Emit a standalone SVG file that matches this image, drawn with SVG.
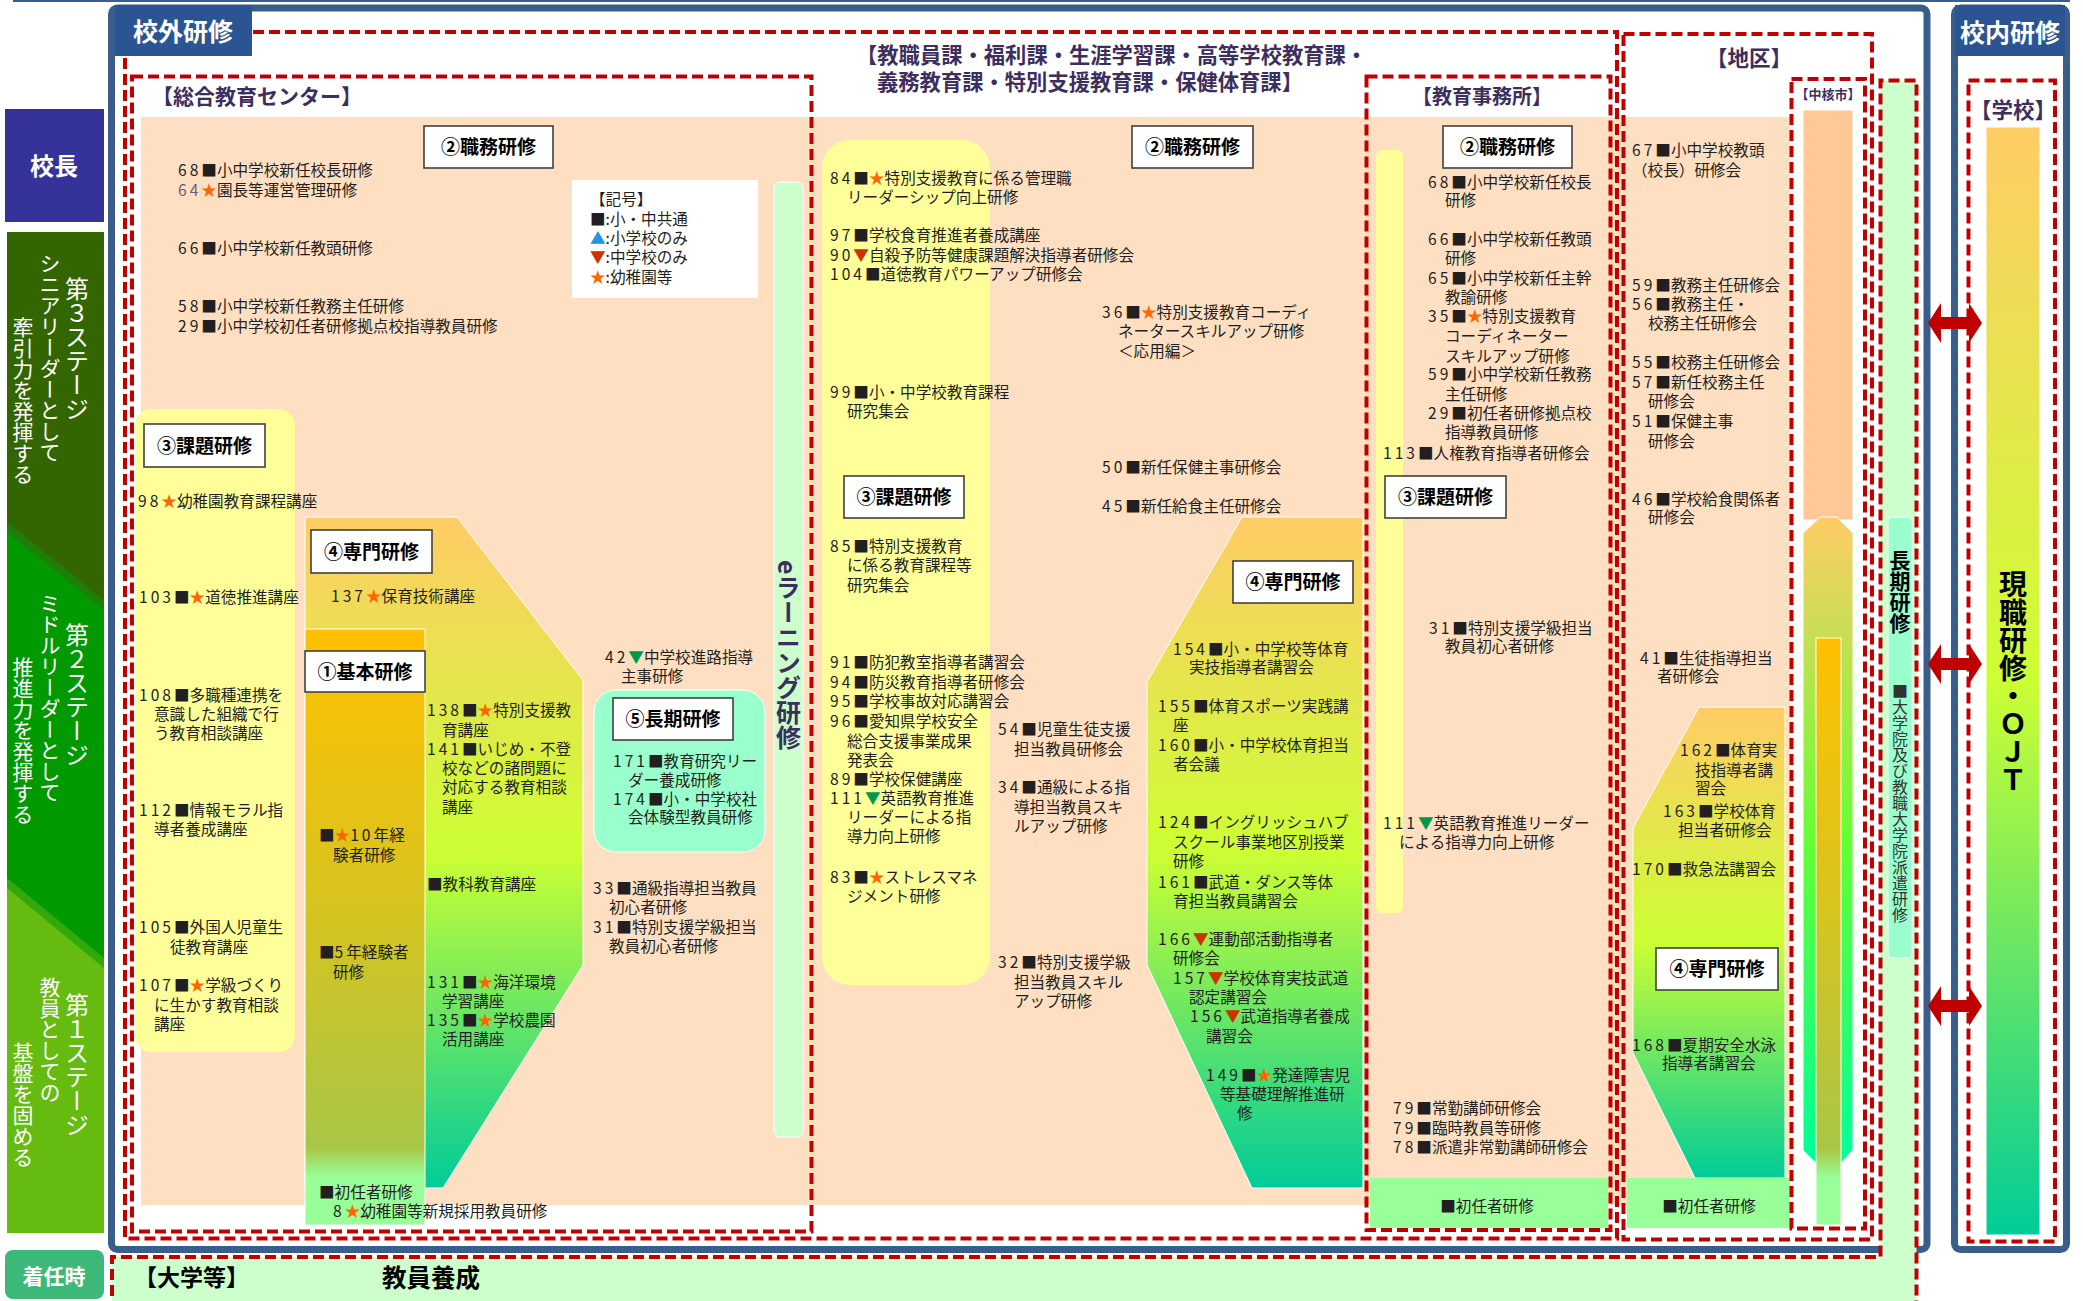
<svg xmlns="http://www.w3.org/2000/svg" width="2083" height="1301" viewBox="0 0 2083 1301">
<defs>
<linearGradient id="gSen" x1="0" y1="0" x2="0" y2="1"><stop offset="0" stop-color="#FFCC66"/><stop offset="0.5" stop-color="#CCFF33"/><stop offset="1" stop-color="#00CC99"/></linearGradient>
<linearGradient id="gKihon" x1="0" y1="0" x2="0" y2="1"><stop offset="0" stop-color="#FFC000"/><stop offset="0.45" stop-color="#D8C41E"/><stop offset="0.87" stop-color="#A9C646"/><stop offset="0.92" stop-color="#99FF99"/><stop offset="1" stop-color="#99FF99"/></linearGradient>
<linearGradient id="gChu" x1="0" y1="0" x2="0" y2="1"><stop offset="0" stop-color="#FFCC66"/><stop offset="0.5" stop-color="#66FF33"/><stop offset="1" stop-color="#00FF99"/></linearGradient>
<style>
.t{font-family:"Noto Sans CJK JP","Noto Sans",sans-serif;font-size:15.6px;fill:#231F20}
.n{letter-spacing:3px}
.st{fill:#FF6600}
.dn{fill:#CC3300}
.dg{fill:#00994C}
.up{fill:#1E96E6}
.dash{fill:none;stroke:#C00000;stroke-width:4;stroke-dasharray:11 5}
.lb rect{fill:#fff;stroke:#404040;stroke-width:1.6}
.lb text{font-family:"Noto Sans CJK JP",sans-serif;font-size:19px;font-weight:bold;fill:#000;text-anchor:middle}
.hd{font-family:"Noto Sans CJK JP",sans-serif;font-weight:bold;fill:#3C2F5E}
.bk{font-family:"Noto Sans CJK JP",sans-serif;font-weight:bold;fill:#000}
.vt{writing-mode:vertical-rl}
.wt{font-family:"Noto Sans CJK JP",sans-serif;fill:#fff}
.frame{fill:#fff;stroke:#3A5E8C;stroke-width:7}
.tab{fill:#2B5592}
.peach{fill:#FFDFC2}
.yel{fill:#FFFF99}
.ln{fill:#CCFFCC}
.shonin{fill:#99FF99}
.arrow{fill:#C00000}
</style>
</defs>
<rect width="2083" height="1301" fill="#fff"/>
<line x1="13" y1="1" x2="2070" y2="1" stroke="#3A5E8C" stroke-width="2"/>

<g id="stage-kocho">
<rect x="5" y="109" width="99" height="113" fill="#333399"/>
<text class="wt" x="54" y="175" font-size="24" font-weight="bold" text-anchor="middle">校長</text>
</g>
<g id="stage-bar">
<rect x="7" y="232" width="97" height="1001" fill="#66BB11"/>
<polygon points="7,232 104,232 104,968 7,888" fill="#33A80A"/>
<polygon points="7,232 104,232 104,958 7,878" fill="#009900"/>
<polygon points="7,232 104,232 104,610 7,532" fill="#1E7F08"/>
<polygon points="7,232 104,232 104,600 7,522" fill="#336600"/>
</g>
<g id="stage-3">
<text class="wt vt" x="77" y="277" font-size="24">第３ステージ</text>
<text class="wt vt" x="50" y="253" font-size="21">シニアリーダーとして</text>
<text class="wt vt" x="23" y="317" font-size="21">牽引力を発揮する</text>
</g>
<g id="stage-2">
<text class="wt vt" x="77" y="623" font-size="24">第２ステージ</text>
<text class="wt vt" x="50" y="593" font-size="21">ミドルリーダーとして</text>
<text class="wt vt" x="23" y="657" font-size="21">推進力を発揮する</text>
</g>
<g id="stage-1">
<text class="wt vt" x="77" y="993" font-size="24">第１ステージ</text>
<text class="wt vt" x="50" y="977" font-size="21">教員としての</text>
<text class="wt vt" x="23" y="1042" font-size="21">基盤を固める</text>
</g>
<g id="chakuninji">
<rect x="5" y="1250" width="99" height="49" rx="8" fill="#3CB878"/>
<text class="wt" x="54" y="1284" font-size="21" font-weight="bold" text-anchor="middle">着任時</text>
</g>

<rect class="frame" x="111.5" y="8" width="1815.5" height="1241.5" rx="6"/>

<rect class="peach" x="141" y="117" width="1649" height="1088"/>

<g id="center-box">
<rect class="yel" x="135" y="409" width="160" height="643" rx="16"/>
<polygon points="305,517 457,517 583,680 583,965 443,1188 305,1188" fill="url(#gSen)" stroke="#fff" stroke-width="1"/>
<rect x="305" y="629" width="120" height="596" fill="url(#gKihon)" stroke="#fff" stroke-width="1"/>
<rect x="594" y="690" width="171" height="162" rx="22" fill="#99FFCC" stroke="#fff" stroke-width="1"/>
<rect class="ln" x="774" y="182" width="29" height="955" rx="6" stroke="#fff" stroke-width="1"/>
<text class="hd vt" x="788.5" y="560" font-size="25">eラーニング研修</text>
<rect class="dash" x="132" y="76.5" width="679.5" height="1155"/>
<text class="hd" x="152" y="104" font-size="21">【総合教育センター】</text>
</g>

<g id="kyoshokuin-box">
<rect class="yel" x="822" y="140" width="168" height="845" rx="28"/>
<polygon points="1242,517 1363,517 1363,1188 1252,1188 1147,965 1147,682" fill="url(#gSen)" stroke="#fff" stroke-width="1"/>
<text class="hd" x="856" y="63" font-size="21.3">【教職員課・福利課・生涯学習課・高等学校教育課・</text>
<text class="hd" x="877" y="90" font-size="21.3">義務教育課・特別支援教育課・保健体育課】</text>
</g>

<g id="jimusho-box">
<rect class="yel" x="1376" y="150" width="27" height="763" rx="6"/>
<rect class="shonin" x="1370" y="1178" width="238" height="50"/>
<rect class="dash" x="1366.5" y="76.5" width="244" height="1153.5"/>
<text class="hd" x="1412" y="104" font-size="20">【教育事務所】</text>
</g>

<g id="chiku-box">
<polygon points="1699,707 1785,707 1785,1178 1695,1178 1633,1053 1633,828" fill="url(#gSen)" stroke="#fff" stroke-width="1"/>
<rect class="shonin" x="1627" y="1178" width="163" height="50"/>
<rect class="dash" x="1623.5" y="34" width="248.5" height="1205.5"/>
<text class="hd" x="1706" y="66" font-size="21.5">【地区】</text>
</g>

<g id="chukakushi-box">
<rect x="1803" y="110" width="50" height="410" fill="#FFC896" stroke="#fff" stroke-width="1"/>
<polygon points="1803,533 1820,517 1837,517 1853,533 1853,1150 1842,1162 1815,1162 1803,1150" fill="url(#gChu)" stroke="#fff" stroke-width="1"/>
<rect x="1816" y="638" width="25" height="587" fill="url(#gKihon)" stroke="#fff" stroke-width="1"/>
<rect class="dash" x="1791.5" y="79" width="73.5" height="1149.5"/>
<text class="hd" x="1828" y="99" font-size="13" text-anchor="middle">【中核市】</text>
</g>

<rect class="dash" x="125" y="32" width="1492" height="1206.5"/>

<g id="kogai-tab">
<rect class="tab" x="115" y="5" width="137" height="51"/>
<text class="wt" x="133" y="41" font-size="25" font-weight="bold">校外研修</text>
</g>

<g id="daigaku-band">
<path d="M112,1312 L112,1257 L1880.5,1257 L1880.5,80.5 L1916.5,80.5 L1916.5,1312 Z" fill="#CCFFCC"/>
<path class="dash" d="M112,1312 L112,1257 L1880.5,1257 L1880.5,80.5 L1916.5,80.5 L1916.5,1312"/>
<text class="bk" x="134" y="1286" font-size="23">【大学等】</text>
<text class="bk" x="382" y="1287" font-size="24.5">教員養成</text>
</g>

<g id="choki-column">
<rect x="1888" y="517" width="24" height="441" rx="4" fill="#99FFCC" stroke="#fff" stroke-width="1"/>
<text class="bk vt" x="1900" y="550" font-size="21">長期研修</text>
<text class="wt vt" x="1900" y="683" font-size="16" style="fill:#333">■大学院及び教職大学院派遣研修</text>
</g>

<g id="legend">
<rect x="572" y="180" width="186" height="118" fill="#fff"/>
<text class="t"><tspan x="590" y="205">【記号】</tspan><tspan x="590" y="225">■:小・中共通</tspan><tspan x="590" y="244"><tspan class="up">▲</tspan>:小学校のみ</tspan><tspan x="590" y="263"><tspan class="dn">▼</tspan>:中学校のみ</tspan><tspan x="590" y="283"><tspan class="st">★</tspan>:幼稚園等</tspan></text>
</g>

<g id="labels">
<g id="lbl-c2" class="lb"><rect x="424" y="126" width="129" height="42"/><text x="488.5" y="154">②職務研修</text></g>
<g id="lbl-k2" class="lb"><rect x="1132" y="126" width="121" height="42"/><text x="1192.5" y="154">②職務研修</text></g>
<g id="lbl-j2" class="lb"><rect x="1443" y="126" width="129" height="42"/><text x="1507.5" y="154">②職務研修</text></g>
<g id="lbl-c3" class="lb"><rect x="144" y="424" width="121" height="43"/><text x="204.5" y="452.5">③課題研修</text></g>
<g id="lbl-k3" class="lb"><rect x="844" y="476" width="120" height="42"/><text x="904" y="504">③課題研修</text></g>
<g id="lbl-j3" class="lb"><rect x="1385" y="476" width="121" height="42"/><text x="1445.5" y="504">③課題研修</text></g>
<g id="lbl-c4" class="lb"><rect x="311" y="530" width="121" height="43"/><text x="371.5" y="558.5">④専門研修</text></g>
<g id="lbl-k4" class="lb"><rect x="1233" y="561" width="120" height="42"/><text x="1293" y="589">④専門研修</text></g>
<g id="lbl-t4" class="lb"><rect x="1656" y="948" width="122" height="42"/><text x="1717" y="976">④専門研修</text></g>
<g id="lbl-c1" class="lb"><rect x="305" y="651" width="120" height="41"/><text x="365" y="678.5">①基本研修</text></g>
<g id="lbl-c5" class="lb"><rect x="613" y="698" width="120" height="42"/><text x="673" y="726">⑤長期研修</text></g>
</g>

<g id="center-texts">
<text class="t" x="178" y="176"><tspan class="n">68</tspan>■小中学校新任校長研修</text>
<text class="t" x="178" y="196"><tspan class="n" fill="#6B5B7B">64</tspan><tspan class="st">★</tspan>園長等運営管理研修</text>
<text class="t" x="178" y="254"><tspan class="n">66</tspan>■小中学校新任教頭研修</text>
<text class="t" x="178" y="312"><tspan class="n">58</tspan>■小中学校新任教務主任研修</text>
<text class="t" x="178" y="332"><tspan class="n">29</tspan>■小中学校初任者研修拠点校指導教員研修</text>
<text class="t" x="138" y="507"><tspan class="n">98</tspan><tspan class="st">★</tspan>幼稚園教育課程講座</text>
<text class="t" x="139" y="603"><tspan class="n">103</tspan>■<tspan class="st">★</tspan>道徳推進講座</text>
<text class="t"><tspan x="139" y="701"><tspan class="n">108</tspan>■多職種連携を</tspan><tspan x="154" y="720">意識した組織で行</tspan><tspan x="154" y="739">う教育相談講座</tspan></text>
<text class="t"><tspan x="139" y="816"><tspan class="n">112</tspan>■情報モラル指</tspan><tspan x="154" y="835">導者養成講座</tspan></text>
<text class="t"><tspan x="139" y="933"><tspan class="n">105</tspan>■外国人児童生</tspan><tspan x="170" y="953">徒教育講座</tspan></text>
<text class="t"><tspan x="139" y="991"><tspan class="n">107</tspan>■<tspan class="st">★</tspan>学級づくり</tspan><tspan x="154" y="1011">に生かす教育相談</tspan><tspan x="154" y="1030">講座</tspan></text>
<text class="t" x="331" y="602"><tspan class="n">137</tspan><tspan class="st">★</tspan>保育技術講座</text>
<text class="t"><tspan x="319" y="841">■<tspan class="st">★</tspan><tspan class="n">10</tspan>年経</tspan><tspan x="333" y="861">験者研修</tspan></text>
<text class="t"><tspan x="319" y="958">■<tspan class="n">5</tspan>年経験者</tspan><tspan x="333" y="978">研修</tspan></text>
<text class="t"><tspan x="319" y="1198">■初任者研修</tspan><tspan x="333" y="1217"><tspan class="n">8</tspan><tspan class="st">★</tspan>幼稚園等新規採用教員研修</tspan></text>
<text class="t"><tspan x="427" y="716"><tspan class="n">138</tspan>■<tspan class="st">★</tspan>特別支援教</tspan><tspan x="442" y="736">育講座</tspan></text>
<text class="t"><tspan x="427" y="755"><tspan class="n">141</tspan>■いじめ・不登</tspan><tspan x="442" y="774">校などの諸問題に</tspan><tspan x="442" y="793">対応する教育相談</tspan><tspan x="442" y="813">講座</tspan></text>
<text class="t" x="427" y="890">■教科教育講座</text>
<text class="t"><tspan x="427" y="988"><tspan class="n">131</tspan>■<tspan class="st">★</tspan>海洋環境</tspan><tspan x="442" y="1007">学習講座</tspan></text>
<text class="t"><tspan x="427" y="1026"><tspan class="n">135</tspan>■<tspan class="st">★</tspan>学校農園</tspan><tspan x="442" y="1045">活用講座</tspan></text>
<text class="t"><tspan x="605" y="663"><tspan class="n">42</tspan><tspan class="dg">▼</tspan>中学校進路指導</tspan><tspan x="621" y="682">主事研修</tspan></text>
<text class="t"><tspan x="613" y="767"><tspan class="n">171</tspan>■教育研究リー</tspan><tspan x="628" y="786">ダー養成研修</tspan></text>
<text class="t"><tspan x="613" y="805"><tspan class="n">174</tspan>■小・中学校社</tspan><tspan x="628" y="823">会体験型教員研修</tspan></text>
<text class="t"><tspan x="593" y="894"><tspan class="n">33</tspan>■通級指導担当教員</tspan><tspan x="609" y="913">初心者研修</tspan></text>
<text class="t"><tspan x="593" y="933"><tspan class="n">31</tspan>■特別支援学級担当</tspan><tspan x="609" y="952">教員初心者研修</tspan></text>
</g>

<g id="kyoshokuin-texts">
<text class="t"><tspan x="830" y="184"><tspan class="n">84</tspan>■<tspan class="st">★</tspan>特別支援教育に係る管理職</tspan><tspan x="847" y="203">リーダーシップ向上研修</tspan></text>
<text class="t" x="830" y="241"><tspan class="n">97</tspan>■学校食育推進者養成講座</text>
<text class="t" x="830" y="261"><tspan class="n">90</tspan><tspan class="dn">▼</tspan>自殺予防等健康課題解決指導者研修会</text>
<text class="t" x="830" y="280"><tspan class="n">104</tspan>■道徳教育パワーアップ研修会</text>
<text class="t"><tspan x="830" y="398"><tspan class="n">99</tspan>■小・中学校教育課程</tspan><tspan x="847" y="417">研究集会</tspan></text>
<text class="t"><tspan x="1102" y="318"><tspan class="n">36</tspan>■<tspan class="st">★</tspan>特別支援教育コーディ</tspan><tspan x="1118" y="337">ネータースキルアップ研修</tspan><tspan x="1118" y="357">＜応用編＞</tspan></text>
<text class="t"><tspan x="830" y="552"><tspan class="n">85</tspan>■特別支援教育</tspan><tspan x="847" y="571">に係る教育課程等</tspan><tspan x="847" y="591">研究集会</tspan></text>
<text class="t" x="1102" y="473"><tspan class="n">50</tspan>■新任保健主事研修会</text>
<text class="t" x="1102" y="512"><tspan class="n">45</tspan>■新任給食主任研修会</text>
<text class="t" x="830" y="668"><tspan class="n">91</tspan>■防犯教室指導者講習会</text>
<text class="t" x="830" y="688"><tspan class="n">94</tspan>■防災教育指導者研修会</text>
<text class="t" x="830" y="707"><tspan class="n">95</tspan>■学校事故対応講習会</text>
<text class="t"><tspan x="830" y="727"><tspan class="n">96</tspan>■愛知県学校安全</tspan><tspan x="847" y="747">総合支援事業成果</tspan><tspan x="847" y="766">発表会</tspan></text>
<text class="t" x="830" y="785"><tspan class="n">89</tspan>■学校保健講座</text>
<text class="t"><tspan x="830" y="804"><tspan class="n">111</tspan><tspan class="dg">▼</tspan>英語教育推進</tspan><tspan x="847" y="823">リーダーによる指</tspan><tspan x="847" y="842">導力向上研修</tspan></text>
<text class="t"><tspan x="830" y="883"><tspan class="n">83</tspan>■<tspan class="st">★</tspan>ストレスマネ</tspan><tspan x="847" y="902">ジメント研修</tspan></text>
<text class="t"><tspan x="998" y="735"><tspan class="n">54</tspan>■児童生徒支援</tspan><tspan x="1014" y="755">担当教員研修会</tspan></text>
<text class="t"><tspan x="998" y="793"><tspan class="n">34</tspan>■通級による指</tspan><tspan x="1014" y="813">導担当教員スキ</tspan><tspan x="1014" y="832">ルアップ研修</tspan></text>
<text class="t"><tspan x="998" y="968"><tspan class="n">32</tspan>■特別支援学級</tspan><tspan x="1014" y="988">担当教員スキル</tspan><tspan x="1014" y="1007">アップ研修</tspan></text>
<text class="t"><tspan x="1173" y="655"><tspan class="n">154</tspan>■小・中学校等体育</tspan><tspan x="1189" y="673">実技指導者講習会</tspan></text>
<text class="t"><tspan x="1158" y="712"><tspan class="n">155</tspan>■体育スポーツ実践講</tspan><tspan x="1173" y="731">座</tspan></text>
<text class="t"><tspan x="1158" y="751"><tspan class="n">160</tspan>■小・中学校体育担当</tspan><tspan x="1173" y="770">者会議</tspan></text>
<text class="t"><tspan x="1158" y="828"><tspan class="n">124</tspan>■イングリッシュハブ</tspan><tspan x="1173" y="848">スクール事業地区別授業</tspan><tspan x="1173" y="867">研修</tspan></text>
<text class="t"><tspan x="1158" y="888"><tspan class="n">161</tspan>■武道・ダンス等体</tspan><tspan x="1173" y="907">育担当教員講習会</tspan></text>
<text class="t"><tspan x="1158" y="945"><tspan class="n">166</tspan><tspan class="dn">▼</tspan>運動部活動指導者</tspan><tspan x="1173" y="964">研修会</tspan></text>
<text class="t"><tspan x="1173" y="984"><tspan class="n">157</tspan><tspan class="dn">▼</tspan>学校体育実技武道</tspan><tspan x="1189" y="1003">認定講習会</tspan></text>
<text class="t"><tspan x="1190" y="1022"><tspan class="n">156</tspan><tspan class="dn">▼</tspan>武道指導者養成</tspan><tspan x="1206" y="1042">講習会</tspan></text>
<text class="t"><tspan x="1206" y="1081"><tspan class="n">149</tspan>■<tspan class="st">★</tspan>発達障害児</tspan><tspan x="1220" y="1100">等基礎理解推進研</tspan><tspan x="1237" y="1119">修</tspan></text>
</g>

<g id="jimusho-texts">
<text class="t"><tspan x="1428" y="188"><tspan class="n">68</tspan>■小中学校新任校長</tspan><tspan x="1445" y="206">研修</tspan></text>
<text class="t"><tspan x="1428" y="245"><tspan class="n">66</tspan>■小中学校新任教頭</tspan><tspan x="1445" y="264">研修</tspan></text>
<text class="t"><tspan x="1428" y="284"><tspan class="n">65</tspan>■小中学校新任主幹</tspan><tspan x="1445" y="303">教諭研修</tspan></text>
<text class="t"><tspan x="1428" y="322"><tspan class="n">35</tspan>■<tspan class="st">★</tspan>特別支援教育</tspan><tspan x="1445" y="342">コーディネーター</tspan><tspan x="1445" y="362">スキルアップ研修</tspan></text>
<text class="t"><tspan x="1428" y="380"><tspan class="n">59</tspan>■小中学校新任教務</tspan><tspan x="1445" y="400">主任研修</tspan></text>
<text class="t"><tspan x="1428" y="419"><tspan class="n">29</tspan>■初任者研修拠点校</tspan><tspan x="1445" y="438">指導教員研修</tspan></text>
<text class="t" x="1383" y="459"><tspan class="n">113</tspan>■人権教育指導者研修会</text>
<text class="t"><tspan x="1429" y="634"><tspan class="n">31</tspan>■特別支援学級担当</tspan><tspan x="1445" y="652">教員初心者研修</tspan></text>
<text class="t"><tspan x="1383" y="829"><tspan class="n">111</tspan><tspan class="dg">▼</tspan>英語教育推進リーダー</tspan><tspan x="1399" y="848">による指導力向上研修</tspan></text>
<text class="t" x="1393" y="1114"><tspan class="n">79</tspan>■常勤講師研修会</text>
<text class="t" x="1393" y="1134"><tspan class="n">79</tspan>■臨時教員等研修</text>
<text class="t" x="1393" y="1153"><tspan class="n">78</tspan>■派遣非常勤講師研修会</text>
<text class="t" x="1487" y="1212" text-anchor="middle">■初任者研修</text>
</g>

<g id="chiku-texts">
<text class="t"><tspan x="1632" y="156"><tspan class="n">67</tspan>■小中学校教頭</tspan><tspan x="1632" y="176">（校長）研修会</tspan></text>
<text class="t" x="1632" y="291"><tspan class="n">59</tspan>■教務主任研修会</text>
<text class="t"><tspan x="1632" y="310"><tspan class="n">56</tspan>■教務主任・</tspan><tspan x="1648" y="329">校務主任研修会</tspan></text>
<text class="t" x="1632" y="368"><tspan class="n">55</tspan>■校務主任研修会</text>
<text class="t"><tspan x="1632" y="388"><tspan class="n">57</tspan>■新任校務主任</tspan><tspan x="1648" y="407">研修会</tspan></text>
<text class="t"><tspan x="1632" y="427"><tspan class="n">51</tspan>■保健主事</tspan><tspan x="1648" y="447">研修会</tspan></text>
<text class="t"><tspan x="1632" y="505"><tspan class="n">46</tspan>■学校給食関係者</tspan><tspan x="1648" y="523">研修会</tspan></text>
<text class="t"><tspan x="1640" y="664"><tspan class="n">41</tspan>■生徒指導担当</tspan><tspan x="1657" y="682">者研修会</tspan></text>
<text class="t"><tspan x="1680" y="756"><tspan class="n">162</tspan>■体育実</tspan><tspan x="1695" y="776">技指導者講</tspan><tspan x="1695" y="794">習会</tspan></text>
<text class="t"><tspan x="1663" y="817"><tspan class="n">163</tspan>■学校体育</tspan><tspan x="1678" y="836">担当者研修会</tspan></text>
<text class="t" x="1632" y="875"><tspan class="n">170</tspan>■救急法講習会</text>
<text class="t"><tspan x="1632" y="1051"><tspan class="n">168</tspan>■夏期安全水泳</tspan><tspan x="1662" y="1069">指導者講習会</tspan></text>
<text class="t" x="1709" y="1212" text-anchor="middle">■初任者研修</text>
</g>

<g id="konai-frame">
<rect class="frame" x="1954.5" y="8" width="112" height="1241.5" rx="6"/>
<rect class="tab" x="1955" y="5" width="110" height="51"/>
<text class="wt" x="1960" y="42" font-size="25" font-weight="bold">校内研修</text>
<rect class="dash" x="1968.5" y="80.5" width="86.5" height="1161"/>
<text class="hd" x="1970" y="118" font-size="21.5">【学校】</text>
<rect x="1986" y="127" width="54" height="1108" fill="url(#gSen)" stroke="#fff" stroke-width="1"/>
<text class="bk vt" x="2013" y="570" font-size="28">現職研修・ＯＪＴ</text>
</g>

<g id="connectors">
<path class="arrow" d="M1928,323 L1941,303 L1941,317 L1969,317 L1969,303 L1982,323 L1969,343 L1969,329 L1941,329 L1941,343 Z"/>
<path class="arrow" d="M1928,664 L1941,644 L1941,658 L1969,658 L1969,644 L1982,664 L1969,684 L1969,670 L1941,670 L1941,684 Z"/>
<path class="arrow" d="M1928,1006 L1941,986 L1941,1000 L1969,1000 L1969,986 L1982,1006 L1969,1026 L1969,1012 L1941,1012 L1941,1026 Z"/>
</g>
</svg>
